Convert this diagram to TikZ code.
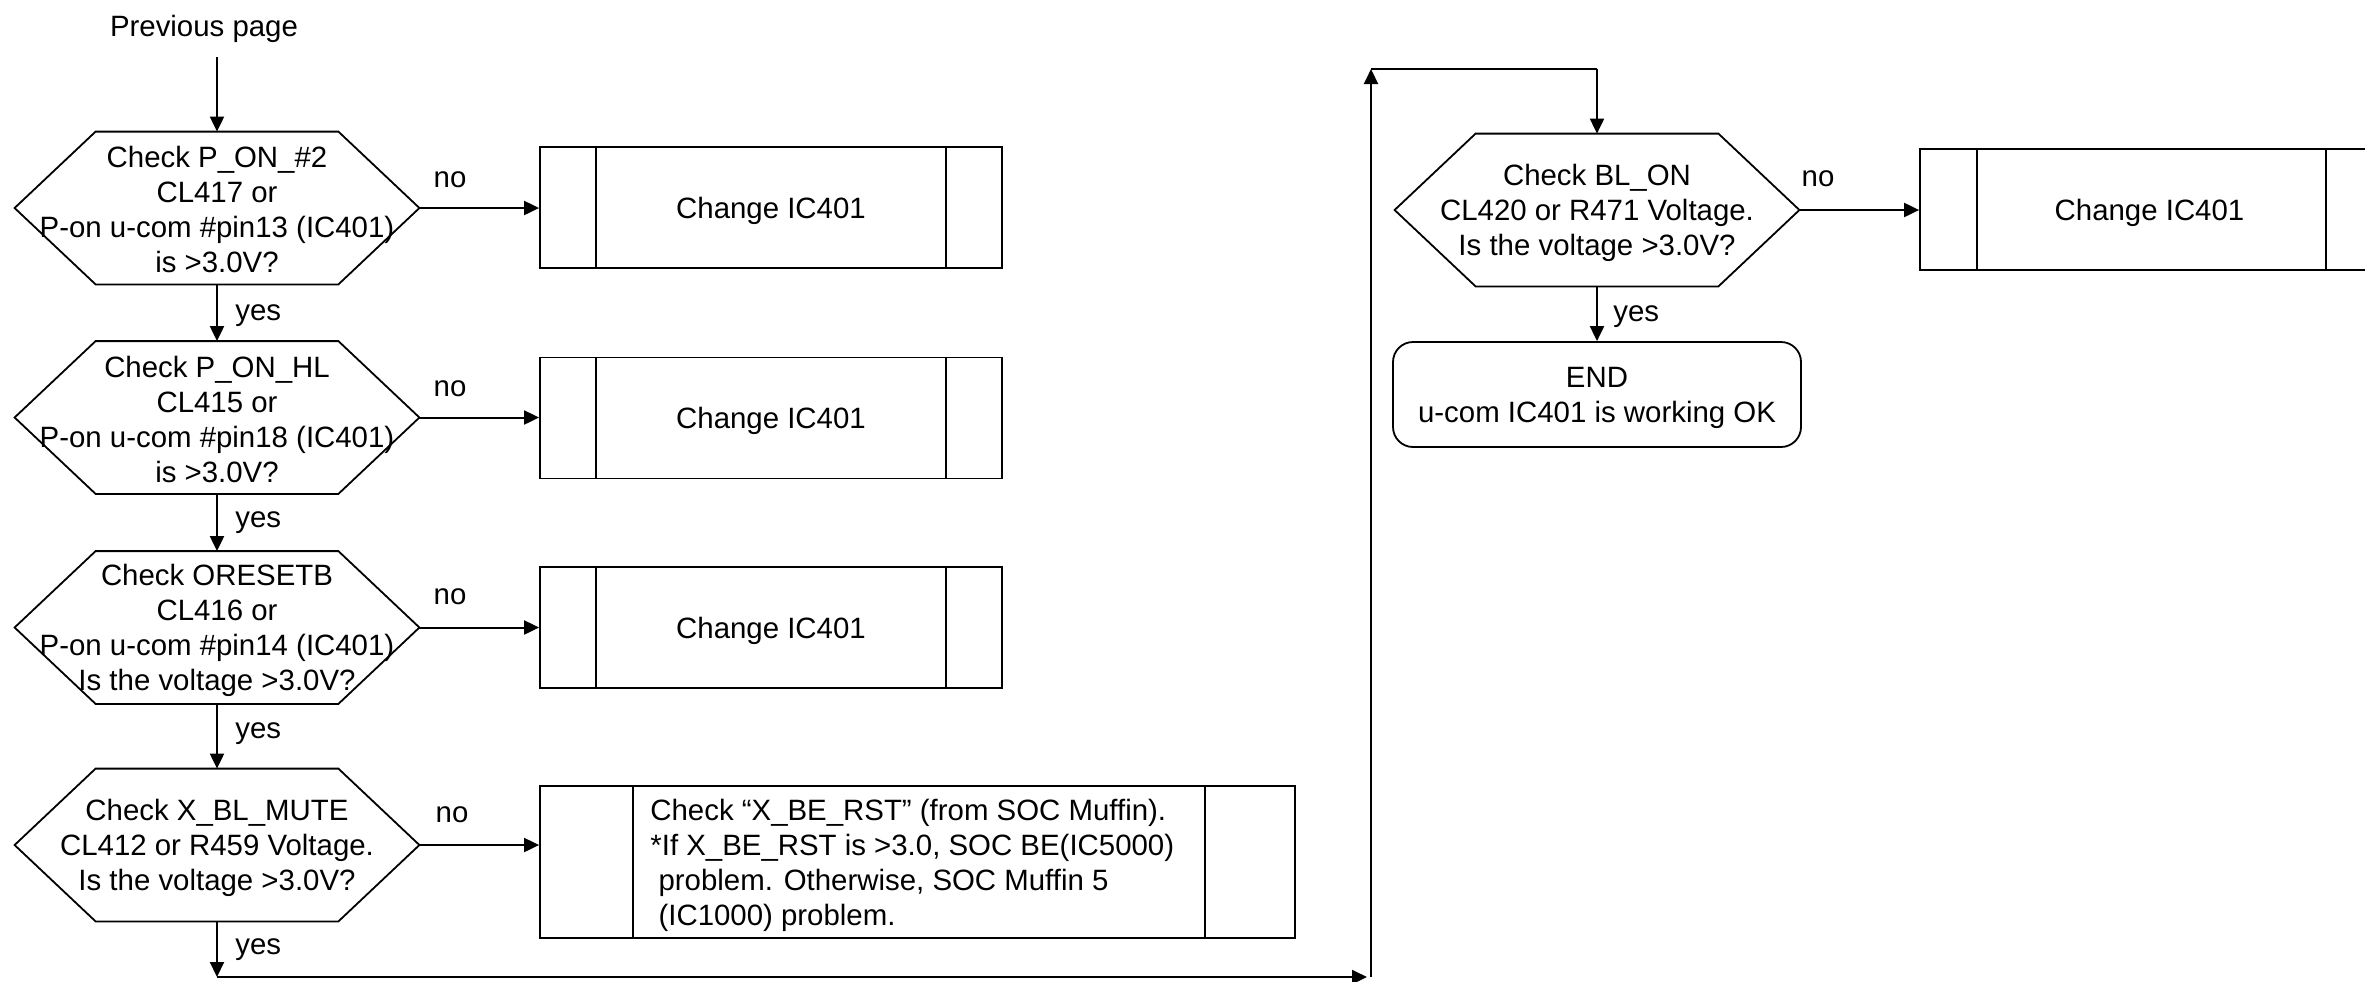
\documentclass[tikz,border=0pt]{standalone}
\usepackage{fontspec}
\setmainfont{Liberation Sans}
\usetikzlibrary{arrows.meta,calc}
\newcommand\hexpath[1]{\draw[shp] (#1.west) -- ($(#1.north west)+(81,0)$) -- ($(#1.north east)-(81,0)$) -- (#1.east) -- ($(#1.south east)-(81,0)$) -- ($(#1.south west)+(81,0)$) -- cycle;}
\newcommand\sidebars[3]{\draw[shp] ($(#1.north west)+(#2,0)$) -- ($(#1.south west)+(#2,0)$); \draw[shp] ($(#1.north east)-(#3,0)$) -- ($(#1.south east)-(#3,0)$);}
\newcommand\dn[1]{\raisebox{-1.5pt}[\height][\depth]{#1}}
\begin{document}
\begin{tikzpicture}[x=0.5pt,y=-0.5pt,
  every node/.style={inner sep=0pt, font=\fontsize{14.7pt}{17.5pt}\selectfont},
  hexn/.style={minimum width=202pt, minimum height=76pt},
  hext/.style={align=center},
  shp/.style={draw=black, line width=0.9pt},
  boxn/.style={draw=black, line width=0.9pt, minimum width=231pt, minimum height=60.5pt},
  arr/.style={line width=1pt, -{Triangle[length=7.5pt,width=7pt]}},
  ln/.style={line width=1pt},
  lbl/.style={anchor=west}]
\useasboundingbox (0,0) rectangle (2365,981);

% start
\node (prev) at (204,29) {Previous page};
\coordinate (p0) at (217,57);

% decisions
\node[hexn] (h1) at (217,208) {};
\node[hexn] (h2) at (217,417.5) {};
\node[hexn] (h3) at (217,627.5) {};
\node[hexn] (h4) at (217,845) {};
\node[hexn] (h5) at (1597,210) {};
\hexpath{h1}\hexpath{h2}\hexpath{h3}\hexpath{h4}\hexpath{h5}
\node[hext] (h1t) at ([yshift=-0.5pt]h1.center) {Check P\_ON\_\#2\\CL417 or\\P-on u-com \#pin13 (IC401)\\is >3.0V?};
\node[hext] (h2t) at ([yshift=-1pt]h2.center) {Check P\_ON\_HL\\CL415 or\\P-on u-com \#pin18 (IC401)\\is >3.0V?};
\node[hext] (h3t) at ([yshift=-1.5pt]h3.center) {Check ORESETB\\CL416 or\\P-on u-com \#pin14 (IC401)\\Is the voltage >3.0V?};
\node[hext] (h4t) at ([yshift=-1.5pt]h4.center) {Check X\_BL\_MUTE\\CL412 or R459 Voltage.\\Is the voltage >3.0V?};
\node[hext] (h5t) at ([yshift=-1.5pt]h5.center) {Check BL\_ON\\CL420 or R471 Voltage.\\Is the voltage >3.0V?};

% process boxes
\node[boxn] (b1) at (771,207.5) {\dn{Change IC401}};
\node[boxn] (b2) at (771,418) {\dn{Change IC401}};
\node[boxn] (b3) at (771,627.5) {\dn{Change IC401}};
\node[boxn, minimum width=377.5pt, minimum height=76pt] (b4) at (917.5,862) {};
\node[anchor=west, align=left] (t4) at (650,865) {Check “X\_BE\_RST” (from SOC Muffin).\\*If X\_BE\_RST is >3.0, SOC BE(IC5000)\\\hspace{0.278em}problem. Otherwise, SOC Muffin 5\\\hspace{0.278em}(IC1000) problem.};
\node[boxn, minimum width=231.5pt] (b5) at (2151.5,209.5) {\hspace{-2pt}\dn{Change IC401}};
\sidebars{b1}{57}{57}
\sidebars{b2}{57}{57}
\sidebars{b3}{57}{57}
\sidebars{b4}{94}{91}
\sidebars{b5}{58}{58}

% end terminal
\node[shp, rounded corners=10pt, minimum width=204pt, minimum height=52.5pt, align=center] (end) at (1597,394.5) {};
\node[align=center] (endt) at (1597,397.5) {END\\u-com IC401 is working OK};

% vertical flow
\draw[arr] (p0) -- (h1.north);
\draw[arr] (h1.south) -- (h2.north);
\draw[arr] (h2.south) -- (h3.north);
\draw[arr] (h3.south) -- (h4.north);
\draw[arr] (h5.south) -- (end.north);

% no branches
\draw[arr] (h1.east) -- (h1.east -| b1.west);
\draw[arr] (h2.east) -- (h2.east -| b2.west);
\draw[arr] (h3.east) -- (h3.east -| b3.west);
\draw[arr] (h4.east) -- (h4.east -| b4.west);
\draw[arr] (h5.east) -- (h5.east -| b5.west);

% loop to second column
\coordinate (c1) at (217,977);
\coordinate (c2) at (1367,977);
\coordinate (c3) at (1371,977);
\coordinate (c4) at (1371,69);
\coordinate (c5) at (1597,69);
\draw[arr] (h4.south) -- (c1);
\draw[arr] (c1) -- (c2);
\draw[arr] (c3) -- (c4);
\draw[ln] (c4) -- (c5);
\draw[arr] (c5) -- (h5.north);

% labels
\node (n1) at (450,180) {no};
\node (n2) at (450,389) {no};
\node (n3) at (450,597) {no};
\node (n4) at (452,815) {no};
\node (n5) at (1818,179) {no};
\node[lbl] (y1) at (235,316) {yes};
\node[lbl] (y2) at (235,523) {yes};
\node[lbl] (y3) at (235,734) {yes};
\node[lbl] (y4) at (235,950) {yes};
\node[lbl] (y5) at (1613,317) {yes};
\end{tikzpicture}
\end{document}
